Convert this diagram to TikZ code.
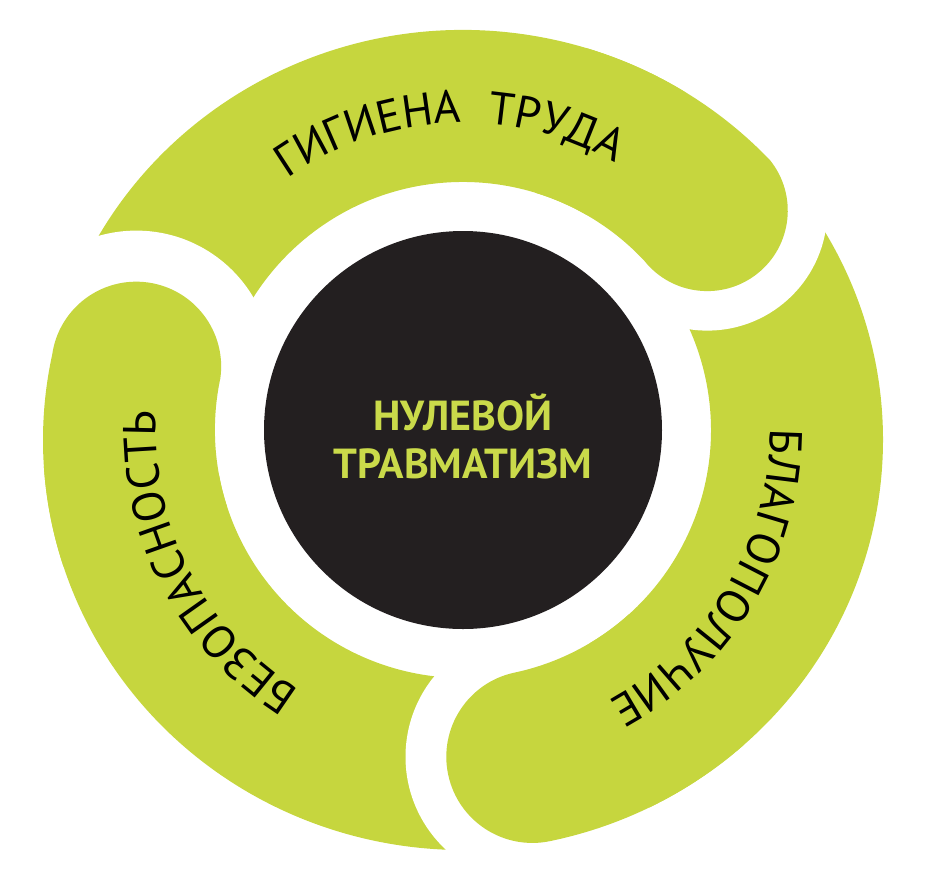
\documentclass[tikz,border=0pt]{standalone}
\usepackage{fontspec}
\setmainfont{PT Sans}
\usetikzlibrary{decorations.text,calc}
\definecolor{lime}{RGB}{198,214,62}
\definecolor{ink}{RGB}{35,31,32}
\definecolor{limetext}{RGB}{202,218,74}
\newcommand\labfont{\fontsize{46}{50}\selectfont}
% #1 start angle, #2 head angle, #3 cap direction, #4 cap radius
\newcommand\segbody[4]{%
  \fill[lime] ($(E)+(#1:420 and 410)$)
    arc[start angle=#1, end angle=#2, x radius=420, y radius=410]
    arc[start angle=#3, end angle=#3+180, radius=#4]
    arc[start angle=#2, end angle=#1, radius=248] -- cycle;}
\newcommand\arclabel[3]{% center angle, text, radius
  \path[decorate, decoration={text along path, text align=center, text={|\labfont|#2}}]
    ($(C)+(#1-70:#3)$) arc[start angle=#1-70, end angle=#1+70, radius=#3];}
\begin{document}
\begin{tikzpicture}[x=1pt,y=-1pt]
\useasboundingbox (0,0) rectangle (935,871);
\coordinate (C) at (463,430);
\coordinate (E) at (463,440);
\coordinate (Htop) at (707.3,210.6);
\coordinate (Hright) at (532.5,756.8);
\coordinate (Hleft) at (136.3,366.6);
% bodies
\segbody{-165}{-43}{-38.6}{80.5}
\segbody{-40}{78}{78}{86.1}
\segbody{81}{192}{188}{84.9}
% notches
\fill[white] (Hleft) circle[radius=136];
\fill[white] (Htop) circle[radius=120];
\fill[white] (Hright) circle[radius=127];
% restore heads
\segbody{-73}{-43}{-38.6}{80.5}
\segbody{48}{78}{78}{86.1}
\segbody{162}{192}{188}{84.9}
% hub
\node[circle, fill=ink, minimum size=398pt, inner sep=0pt] (hub) at (C) {};
\node[text=limetext, font=\fontsize{42}{48}\selectfont\bfseries, align=center] (core) at (463,436) {НУЛЕВОЙ\\ТРАВМАТИЗМ};
% labels
\arclabel{-107.6}{ГИГИЕНА}{307}
\arclabel{-72.9}{ТРУДА}{307}
\arclabel{30.8}{БЛАГОПОЛУЧИЕ}{307}
\arclabel{152.9}{БЕЗОПАСНОСТЬ}{307}
\end{tikzpicture}
\end{document}
